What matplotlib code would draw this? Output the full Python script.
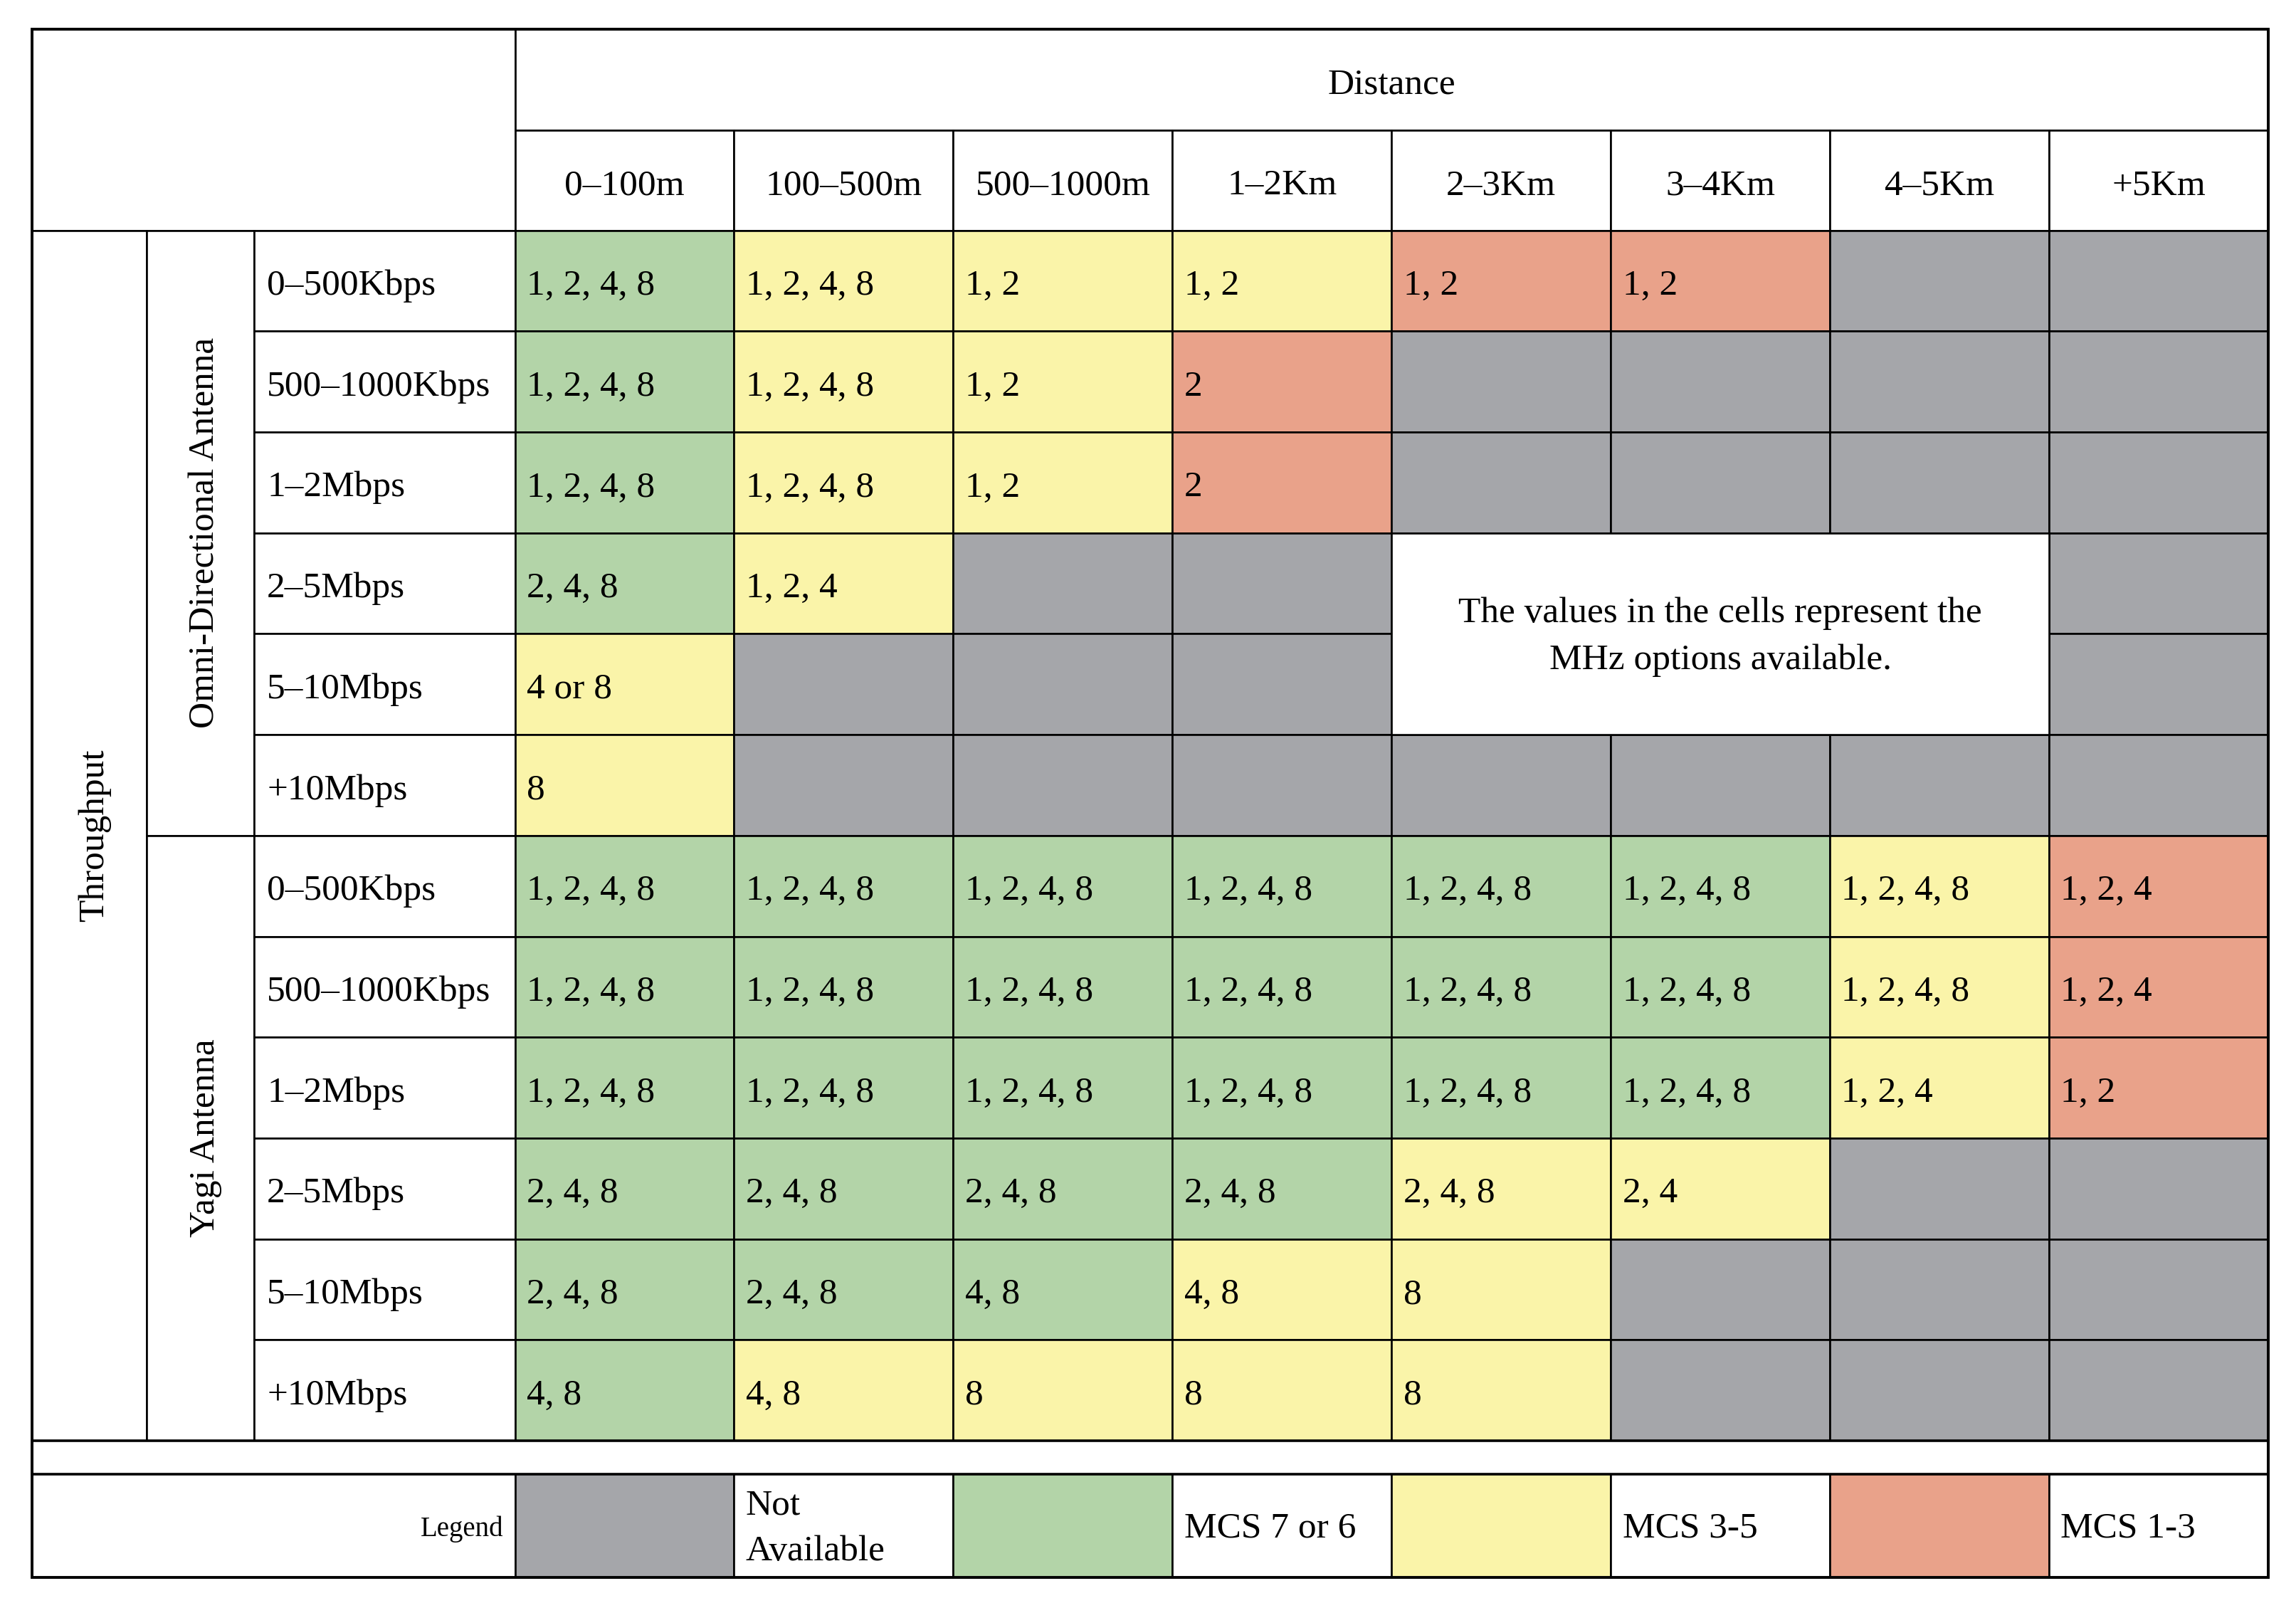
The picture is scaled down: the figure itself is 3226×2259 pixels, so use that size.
import matplotlib
matplotlib.use("Agg")
import matplotlib.pyplot as plt
from matplotlib.patches import Rectangle

# ---------------- data ----------------
distances = ["0–100m", "100–500m", "500–1000m", "1–2Km", "2–3Km", "3–4Km", "4–5Km", "+5Km"]
throughputs = ["0–500Kbps", "500–1000Kbps", "1–2Mbps", "2–5Mbps", "5–10Mbps", "+10Mbps"]
antennas = ["Omni-Directional Antenna", "Yagi Antenna"]

# G = MCS 7 or 6, Y = MCS 3-5, R = MCS 1-3, N = not available, W = note area
omni_class = [
    ["G", "Y", "Y", "Y", "R", "R", "N", "N"],
    ["G", "Y", "Y", "R", "N", "N", "N", "N"],
    ["G", "Y", "Y", "R", "N", "N", "N", "N"],
    ["G", "Y", "N", "N", "W", "W", "W", "N"],
    ["Y", "N", "N", "N", "W", "W", "W", "N"],
    ["Y", "N", "N", "N", "N", "N", "N", "N"],
]
omni_text = [
    ["1, 2, 4, 8", "1, 2, 4, 8", "1, 2", "1, 2", "1, 2", "1, 2", "", ""],
    ["1, 2, 4, 8", "1, 2, 4, 8", "1, 2", "2", "", "", "", ""],
    ["1, 2, 4, 8", "1, 2, 4, 8", "1, 2", "2", "", "", "", ""],
    ["2, 4, 8", "1, 2, 4", "", "", "", "", "", ""],
    ["4 or 8", "", "", "", "", "", "", ""],
    ["8", "", "", "", "", "", "", ""],
]
yagi_class = [
    ["G", "G", "G", "G", "G", "G", "Y", "R"],
    ["G", "G", "G", "G", "G", "G", "Y", "R"],
    ["G", "G", "G", "G", "G", "G", "Y", "R"],
    ["G", "G", "G", "G", "Y", "Y", "N", "N"],
    ["G", "G", "G", "Y", "Y", "N", "N", "N"],
    ["G", "Y", "Y", "Y", "Y", "N", "N", "N"],
]
yagi_text = [
    ["1, 2, 4, 8"] * 7 + ["1, 2, 4"],
    ["1, 2, 4, 8"] * 7 + ["1, 2, 4"],
    ["1, 2, 4, 8"] * 6 + ["1, 2, 4", "1, 2"],
    ["2, 4, 8", "2, 4, 8", "2, 4, 8", "2, 4, 8", "2, 4, 8", "2, 4", "", ""],
    ["2, 4, 8", "2, 4, 8", "4, 8", "4, 8", "8", "", "", ""],
    ["4, 8", "4, 8", "8", "8", "8", "", "", ""],
]
note_text = "The values in the cells represent the\nMHz options available."
legend_keys = ["N", "G", "Y", "R"]
legend_labels = ["Not\nAvailable", "MCS 7 or 6", "MCS 3-5", "MCS 1-3"]

colors = {"G": "#B3D4A8", "Y": "#FAF4A9", "R": "#E9A28A", "N": "#A5A6AA", "W": "white"}

# ---------------- layout (units: reference display px) ----------------
W, H = 1565.0, 1096.0
X0, X1, X2, X3, XR = 22.0, 100.0, 173.0, 351.0, 1546.0
Y0, Yh1, Yh2, Ydata_end, Yblank_end, Yend = 20.0, 89.0, 157.0, 982.0, 1005.0, 1075.0
ncol = len(distances)
cw = (XR - X3) / ncol
nrow = len(throughputs) * len(antennas)
rh = (Ydata_end - Yh2) / nrow

FONT = ["Liberation Serif", "DejaVu Serif"]
FS = 37
LW = 1.9
BOFF = 9.5  # baseline offset from cell centre

fig = plt.figure(figsize=(32.26, 22.59), dpi=100)
ax = fig.add_axes([0, 0, 1, 1])
ax.set_xlim(0, W)
ax.set_ylim(H, 0)
ax.axis("off")


def cell(x, y, w, h, fc="white", lw=LW):
    ax.add_patch(Rectangle((x, y), w, h, facecolor=fc, edgecolor="black", linewidth=lw, zorder=1))


def txt(x, y, s, ha="left", fs=FS, **kw):
    ax.text(x, y, s, ha=ha, va="baseline", fontsize=fs, family=FONT, color="black", zorder=3, **kw)


# header
cell(X0, Y0, X3 - X0, Yh2 - Y0)
cell(X3, Y0, XR - X3, Yh1 - Y0)
txt((X3 + XR) / 2, (Y0 + Yh1) / 2 + BOFF, "Distance", ha="center")
for j, d in enumerate(distances):
    x = X3 + j * cw
    cell(x, Yh1, cw, Yh2 - Yh1)
    txt(x + cw / 2, (Yh1 + Yh2) / 2 + BOFF, d, ha="center")

# throughput column
cell(X0, Yh2, X1 - X0, Ydata_end - Yh2)
ax.text(X0 + (X1 - X0) / 2 + BOFF, (Yh2 + Ydata_end) / 2, "Throughput", rotation=90,
        rotation_mode="anchor", ha="center", va="baseline", fontsize=FS, family=FONT, zorder=3)

blocks = [(omni_class, omni_text), (yagi_class, yagi_text)]
for b, (cls, tx) in enumerate(blocks):
    yb = Yh2 + b * len(throughputs) * rh
    hb = len(throughputs) * rh
    cell(X1, yb, X2 - X1, hb)
    ax.text((X1 + X2) / 2 + BOFF, yb + hb / 2, antennas[b], rotation=90,
            rotation_mode="anchor", ha="center", va="baseline", fontsize=FS, family=FONT, zorder=3)
    for i, t in enumerate(throughputs):
        y = yb + i * rh
        cell(X2, y, X3 - X2, rh)
        txt(X2 + 9, y + rh / 2 + BOFF, t)
        for j in range(ncol):
            k = cls[i][j]
            if k == "W":
                continue
            x = X3 + j * cw
            cell(x, y, cw, rh, fc=colors[k])
            if tx[i][j]:
                txt(x + 8, y + rh / 2 + BOFF, tx[i][j])

    # note area (merged cells)
    wi = [(i, j) for i in range(len(throughputs)) for j in range(ncol) if cls[i][j] == "W"]
    if wi:
        i0 = min(p[0] for p in wi); i1 = max(p[0] for p in wi)
        j0 = min(p[1] for p in wi); j1 = max(p[1] for p in wi)
        nx = X3 + j0 * cw
        ny = yb + i0 * rh
        nw = (j1 - j0 + 1) * cw
        nh = (i1 - i0 + 1) * rh
        cell(nx, ny, nw, nh, fc="white")
        ax.text(nx + nw / 2, ny + nh / 2 + 2, note_text, ha="center", va="center",
                fontsize=FS, family=FONT, linespacing=1.55, zorder=3)

# blank strip
cell(X0, Ydata_end, XR - X0, Yblank_end - Ydata_end, lw=2.6)

# legend row
cell(X0, Yblank_end, X3 - X0, Yend - Yblank_end)
txt(X3 - 8, (Yblank_end + Yend) / 2 + 7, "Legend", ha="right", fs=28)
for n, (k, lab) in enumerate(zip(legend_keys, legend_labels)):
    xs = X3 + 2 * n * cw
    cell(xs, Yblank_end, cw, Yend - Yblank_end, fc=colors[k])
    cell(xs + cw, Yblank_end, cw, Yend - Yblank_end)
    ax.text(xs + cw + 8, (Yblank_end + Yend) / 2 + 2, lab, ha="left", va="center",
            multialignment="left", fontsize=FS, family=FONT, linespacing=1.5, zorder=3)

# outer border
ax.add_patch(Rectangle((X0, Y0), XR - X0, Yend - Y0, fill=False, edgecolor="black",
                       linewidth=2.8, zorder=4))

fig.savefig("out.png", dpi=100, facecolor="white")
